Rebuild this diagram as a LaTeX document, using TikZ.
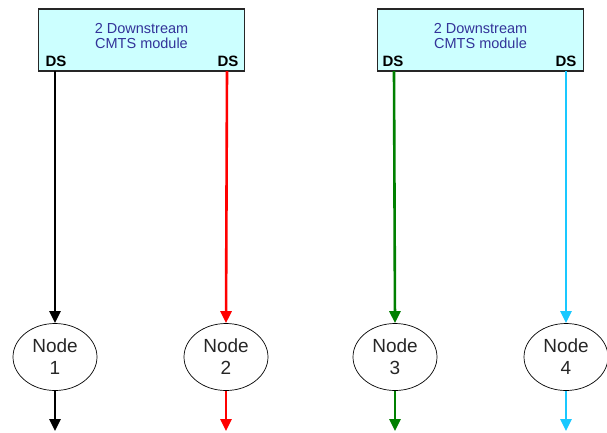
\documentclass[tikz,border=0pt]{standalone}
\usepackage{fontspec}
\setmainfont{Liberation Sans}
\usetikzlibrary{arrows.meta,shapes.geometric}
\definecolor{boxfill}{HTML}{CCFFFF}
\definecolor{boxtext}{HTML}{333399}
\definecolor{dsred}{HTML}{FF0000}
\definecolor{dsgreen}{HTML}{008000}
\definecolor{dscyan}{HTML}{19C8FF}
\tikzset{
  module/.style={draw=black!85, line width=1.2pt, fill=boxfill, minimum width=206pt, minimum height=62pt, inner sep=0pt},
  modtext/.style={text=boxtext, font=\fontsize{14.5}{15.5}\selectfont, align=center},
  dslabel/.style={font=\fontsize{15}{15}\selectfont\bfseries, inner sep=0pt, anchor=base},
  nodeell/.style={draw, ellipse, line width=0.7pt, minimum width=84pt, minimum height=67pt, inner sep=0pt, align=center, font=\fontsize{19}{22}\selectfont, text=black!85},
  feed/.style={line width=2.6pt, -{Triangle[width=11pt,length=12pt]}}
}
\begin{document}
\begin{tikzpicture}[x=1pt,y=-1pt]
\useasboundingbox (0,0) rectangle (607,432);
% modules
\node[module] (m1) at (141.5,40) {};
\node[module] (m2) at (480.5,40) {};
\node[modtext] (t1) at (141.5,36) {2 Downstream\\CMTS module};
\node[modtext] (t2) at (480.5,36) {2 Downstream\\CMTS module};
\node[dslabel] (d1) at (56,66) {DS};
\node[dslabel] (d2) at (228,66) {DS};
\node[dslabel] (d3) at (393,66) {DS};
\node[dslabel] (d4) at (566,66) {DS};
% port coordinates
\coordinate (p1) at (55,71);
\coordinate (p2) at (227,71);
\coordinate (p3) at (394,71);
\coordinate (p4) at (566,71);
% nodes
\node[nodeell] (n1) at (55,357) {Node\\1};
\node[nodeell] (n2) at (226,357) {Node\\2};
\node[nodeell] (n3) at (395,357) {Node\\3};
\node[nodeell] (n4) at (566,357) {Node\\4};
% outputs
\coordinate (o1) at (55,431);
\coordinate (o2) at (226,431);
\coordinate (o3) at (395,431);
\coordinate (o4) at (566,431);
% connectors
\draw[feed,black] (p1) -- (n1.north);
\draw[feed,dsred] (p2) -- (n2.north);
\draw[feed,dsgreen] (p3) -- (n3.north);
\draw[feed,dscyan] (p4) -- (n4.north);
\draw[feed,black] (n1.south) -- (o1);
\draw[feed,dsred] (n2.south) -- (o2);
\draw[feed,dsgreen] (n3.south) -- (o3);
\draw[feed,dscyan] (n4.south) -- (o4);
\end{tikzpicture}
\end{document}
